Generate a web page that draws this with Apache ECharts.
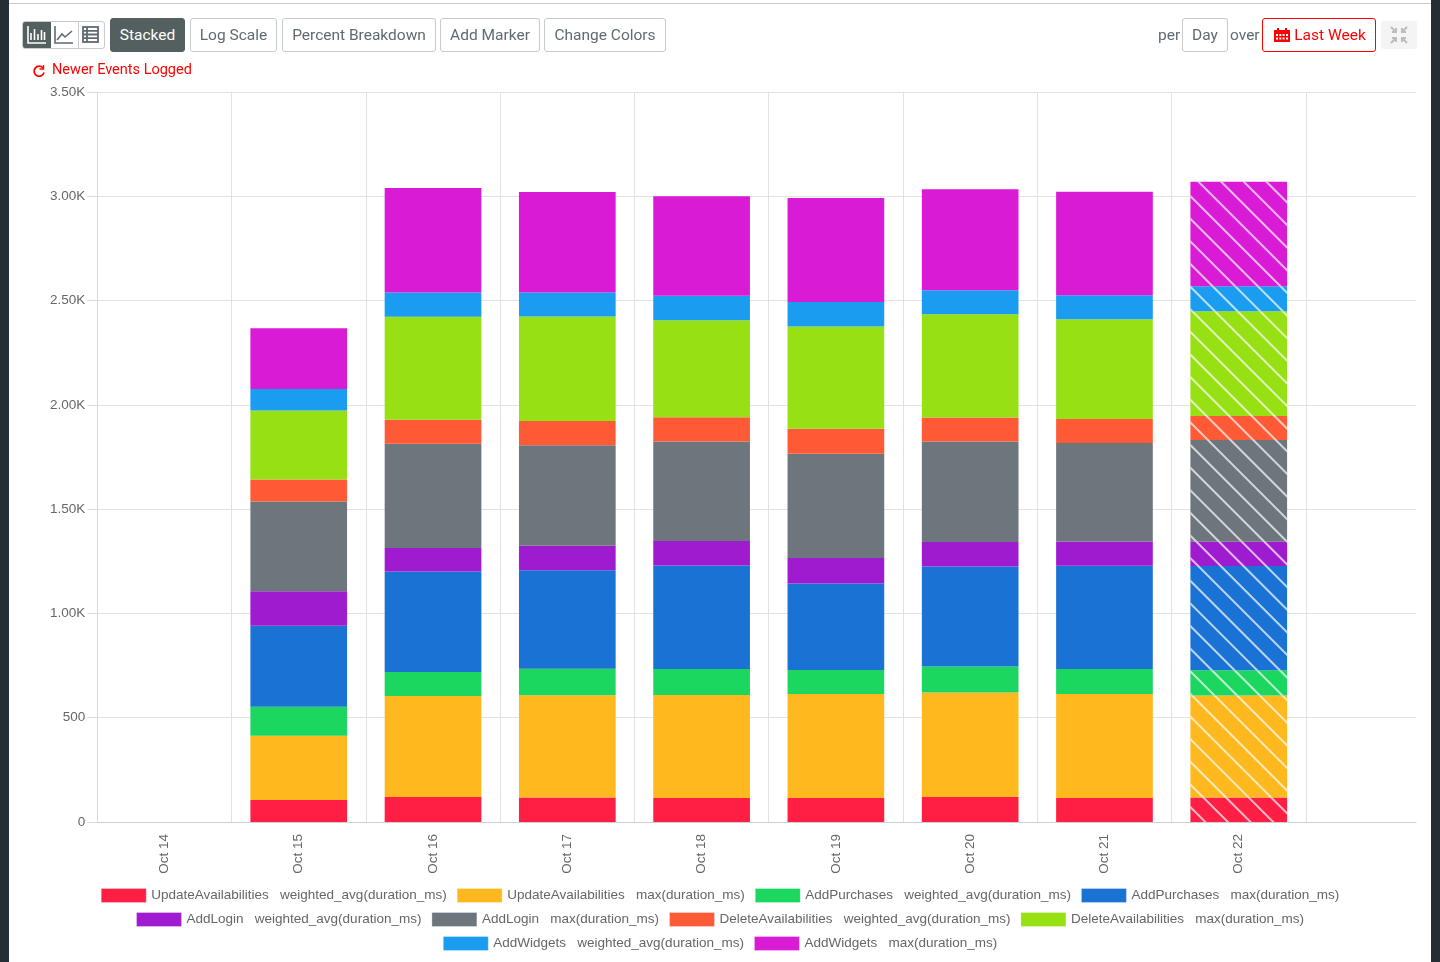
<!DOCTYPE html>
<html>
<head>
    <meta charset="UTF-8">
    <title>Events</title>
    <style>
        *{
            margin: 0;
            padding: 0;
            box-sizing: border-box;
        }
        body{
            width: 1440px;
            height: 962px;
            overflow: hidden;
            background: #fff;
            font-family: Roboto, sans-serif;
            color: #5f6a72;
        }
        .side{
            position: absolute;
            top: 0;
            bottom: 0;
            background: #262e35;
        }
        .topline{
            position: absolute;
            left: 9px;
            right: 9px;
            top: 3px;
            height: 1px;
            background: #c9c9c9;
        }
        .container{
            position: absolute;
            left: 0;
            top: 0;
            width: 1440px;
            height: 962px;
        }
        .btn{
            position: absolute;
            top: 18px;
            height: 34px;
            line-height: 32px;
            border: 1px solid #c6cbcc;
            border-radius: 3px;
            font-size: 15.5px;
            text-align: center;
            background: #fff;
        }
        .btn.on{
            background: #545f5f;
            color: #fff;
            border-color: #545f5f;
        }
        .lbl{
            position: absolute;
            top: 18px;
            line-height: 34px;
            font-size: 15.5px;
        }
        .red{
            color: #ff0000;
        }
        .icons{
            position: absolute;
            left: 22px;
            top: 21px;
            width: 83px;
            height: 28px;
            border: 1px solid #c6cbcc;
            border-radius: 3px;
            overflow: hidden;
        }
        .icons div{
            position: absolute;
            top: 0;
            height: 26px;
            width: 28px;
        }
        svg{
            display: block;
        }
    </style>
    <script src="https://cdn.jsdelivr.net/npm/echarts@6/dist/echarts.min.js"></script>
</head>
<body>
<div class="container"></div>
<div class="side" style="left:0;width:9px"></div>
<div class="side" style="left:1431px;width:9px"></div>
<div class="topline"></div>

<div class="icons">
    <div style="left:0;background:#545f5f">
        <svg width="28" height="26" fill="none" stroke="#fff" stroke-width="1.6"><path d="M5 4V21H23M8 18V11M11.5 18V7M15 18V12M18.5 18V8M21.5 18V10"/></svg>
    </div>
    <div style="left:28px;border-right:1px solid #c6cbcc">
        <svg width="28" height="26" fill="none" stroke="#5f6a72" stroke-width="1.6"><path d="M4 4V21H22M6 18L11 12L14 15L21 9"/></svg>
    </div>
    <div style="left:56px">
        <svg width="26" height="26" fill="none" stroke="#5f6a72" stroke-width="1.8"><rect x="4" y="5" width="15" height="15"/><path d="M4 8.8H19M4 12.5H19M4 16.2H19M8 5V20"/></svg>
    </div>
</div>
<div class="btn on" style="left:110px;width:75px">Stacked</div>
<div class="btn" style="left:190px;width:87px">Log Scale</div>
<div class="btn" style="left:282px;width:154px">Percent Breakdown</div>
<div class="btn" style="left:440px;width:100px">Add Marker</div>
<div class="btn" style="left:544px;width:122px">Change Colors</div>

<div class="lbl" style="left:1158px">per</div>
<div class="btn" style="left:1182px;width:46px">Day</div>
<div class="lbl" style="left:1230px">over</div>
<div class="btn red" style="left:1262px;width:114px;border-color:#ff0000;padding-left:22px">Last Week</div>
<svg style="position:absolute;left:1273px;top:27px" width="18" height="16" fill="#ff0000"><path d="M1 3H4V1H6V3H12V1H14V3H17V15H1Z"/><g fill="#fff"><rect x="3" y="7" width="2" height="2"/><rect x="6.3" y="7" width="2" height="2"/><rect x="9.6" y="7" width="2" height="2"/><rect x="13" y="7" width="2" height="2"/><rect x="3" y="10.5" width="2" height="2"/><rect x="6.3" y="10.5" width="2" height="2"/><rect x="9.6" y="10.5" width="2" height="2"/><rect x="13" y="10.5" width="2" height="2"/></g></svg>
<div style="position:absolute;left:1381px;top:21px;width:36px;height:28px;background:#f4f4f4;border-radius:3px">
    <svg width="36" height="28" fill="none" stroke="#bdbdbd" stroke-width="2"><path d="M10 6L15 11M15 7V11H11M26 6L21 11M21 7V11H25M10 22L15 17M15 21V17H11M26 22L21 17M21 21V17H25"/></svg>
</div>

<svg style="position:absolute;left:32px;top:64px" width="14" height="14" fill="none" stroke="#ff0000" stroke-width="1.7"><path d="M11 4A5 5 0 1 0 12 8.5"/><path d="M11.5 1V5H7.5" stroke-width="1.4"/></svg>
<div class="red" style="position:absolute;left:52px;top:61px;font-size:14.5px;line-height:18px">Newer Events Logged</div>

<script>
    const days=['Oct 14','Oct 15','Oct 16','Oct 17','Oct 18','Oct 19','Oct 20','Oct 21','Oct 22']
    const yTicks=[0,500,1000,1500,2000,2500,3000,3500]

    // Oct 14 has no events at all
    const updAvg=[null,105,120,117,115,115,120,115,117]
    const updMax=[null,309,484,491,494,499,501,499,489]
    const purAvg=[null,139,115,127,125,115,125,120,122]
    const purMax=[null,388,482,472,496,415,479,494,499]
    const logAvg=[null,165,113,117,117,122,117,117,117]
    const logMax=[null,431,499,482,477,499,482,472,487]
    const delAvg=[null,105,115,117,117,120,115,115,115]
    const delMax=[null,331,494,501,465,491,496,479,503]
    const widAvg=[null,103,117,115,117,117,115,115,120]
    const widMax=[null,291,501,482,477,499,484,496,501]

    const names=[
        'UpdateAvailabilities   weighted_avg(duration_ms)',
        'UpdateAvailabilities   max(duration_ms)',
        'AddPurchases   weighted_avg(duration_ms)',
        'AddPurchases   max(duration_ms)',
        'AddLogin   weighted_avg(duration_ms)',
        'AddLogin   max(duration_ms)',
        'DeleteAvailabilities   weighted_avg(duration_ms)',
        'DeleteAvailabilities   max(duration_ms)',
        'AddWidgets   weighted_avg(duration_ms)',
        'AddWidgets   max(duration_ms)'
    ]
    const values=[updAvg,updMax,purAvg,purMax,logAvg,logMax,delAvg,delMax,widAvg,widMax]
    const colors=['#ff1f44','#ffb81e','#1bd760','#1a73d4','#9e1bcf','#6e767d','#ff5a36','#96e014','#1a9cf0','#d91bd6']

    // the last day is still in progress, so it gets the hatching
    const hatch={
        symbol:'rect',
        symbolSize:1,
        color:'rgba(255,255,255,0.7)',
        dashArrayX:[1,0],
        dashArrayY:[1.7,13.7],
        rotation:Math.PI/4
    }

    let series=values.map((vals,i)=>({
        name:names[i],
        type:'bar',
        stack:'total',
        barWidth:'72%',
        animation:false,
        itemStyle:{color:colors[i]},
        data:vals.map((v,j)=>j==vals.length-1?{value:v,itemStyle:{decal:hatch}}:v)
    }))

    let legendRow=(data,top)=>({
        data,
        top,
        left:'center',
        icon:'rect',
        itemWidth:45,
        itemHeight:14,
        itemGap:10,
        selectedMode:false,
        textStyle:{color:'#666',fontSize:13.5,fontFamily:'Liberation Sans'},
        itemStyle:{borderWidth:1,borderColor:'rgba(255,255,255,0.3)'}
    })

    let yLabel=v=>v==0?'0':v<1000?String(v):(v/1000).toFixed(2)+'K'

    let mychart=echarts.init(document.querySelector('.container'))
    let option={
        animation:false,
        textStyle:{fontFamily:'Liberation Sans'},
        legend:[
            legendRow(names.slice(0,4),883),
            legendRow(names.slice(4,8),907),
            legendRow(names.slice(8),931)
        ],
        // second grid only carries the empty stretch right of the last day
        grid:[
            {left:97.3,top:92,width:1208.6,height:730,containLabel:false},
            {left:1305.9,top:92,width:110.1,height:730,containLabel:false}
        ],
        xAxis:[
            {
                type:'category',
                data:days,
                gridIndex:0,
                axisLine:{lineStyle:{color:'#d0d0d0'}},
                axisTick:{length:9,lineStyle:{color:'#dcdcdc'},alignWithLabel:false},
                axisLabel:{rotate:90,color:'#666',fontSize:13.5,margin:12,interval:0,padding:[0,0,3,0]},
                splitLine:{show:true,lineStyle:{color:'#e2e2e2'}}
            },
            {
                type:'value',
                gridIndex:1,
                min:0,
                max:1,
                axisLine:{lineStyle:{color:'#d0d0d0'}},
                axisTick:{show:false},
                axisLabel:{show:false},
                splitLine:{show:false}
            }
        ],
        yAxis:[
            {
                type:'value',
                gridIndex:0,
                min:yTicks[0],
                max:yTicks[yTicks.length-1],
                interval:yTicks[1]-yTicks[0],
                axisLine:{show:true,lineStyle:{color:'#d8d8d8'}},
                axisTick:{show:true,length:10,lineStyle:{color:'#dcdcdc'}},
                axisLabel:{color:'#666',fontSize:13.5,margin:12,formatter:yLabel},
                splitLine:{lineStyle:{color:'#e2e2e2'}}
            },
            {
                type:'value',
                gridIndex:1,
                min:yTicks[0],
                max:yTicks[yTicks.length-1],
                interval:yTicks[1]-yTicks[0],
                axisLine:{show:false},
                axisTick:{show:false},
                axisLabel:{show:false},
                splitLine:{lineStyle:{color:'#e2e2e2'}}
            }
        ],
        series
    }
    mychart.setOption(option)
</script>
</body>
</html>
